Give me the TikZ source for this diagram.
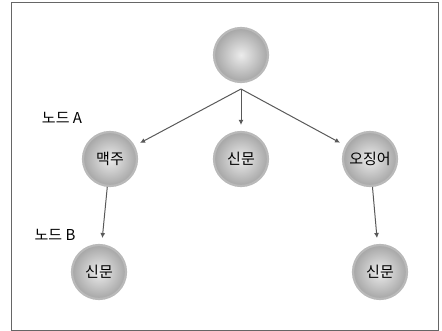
\documentclass[tikz,border=0pt]{standalone}
\usepackage{fontspec}
\newfontfamily\kr{Noto Sans CJK KR}
\usetikzlibrary{arrows.meta}
\begin{document}
\begin{tikzpicture}[x=1pt,y=-1pt,
  ball/.style={circle,minimum size=54pt,inner sep=0pt,draw=gray!55,line width=2.2pt,
    inner color=gray!15,outer color=gray!70,font=\kr\fontsize{15}{17}\selectfont},
  conn/.style={draw=black!65,line width=1pt,shorten >=6pt,-{Latex[length=5pt,width=5pt]}},
  lbl/.style={font=\kr\fontsize{15}{17}\selectfont}]
\useasboundingbox (0,0) rectangle (442,331);
\draw[black!60,line width=1pt] (11,3) rectangle (438,330);
\node[ball] (root) at (241,55) {};
\node[ball] (a) at (110,159) {맥주};
\node[ball] (b) at (241,159) {신문};
\node[ball] (c) at (370,159) {오징어};
\node[ball] (d) at (99,272) {신문};
\node[ball] (e) at (380,272) {신문};
\coordinate (hub) at (241,89);
\draw[conn] (hub) -- (a);
\draw[conn] (hub) -- (b);
\draw[conn] (hub) -- (c);
\draw[conn] (a) -- (d);
\draw[conn] (c) -- (e);
\node[lbl] (la) at (62,118) {노드 A};
\node[lbl] (lb) at (55,235) {노드 B};
\end{tikzpicture}
\end{document}
